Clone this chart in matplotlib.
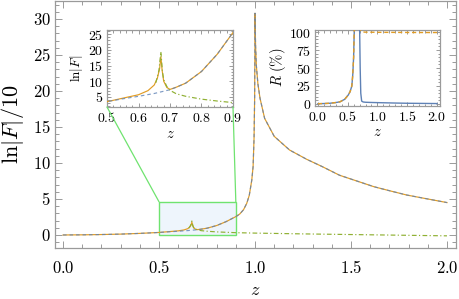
import numpy as np
import matplotlib
matplotlib.use('Agg')
import matplotlib.pyplot as plt
from matplotlib.patches import Rectangle, ConnectionPatch
from matplotlib.ticker import MultipleLocator, FuncFormatter

plt.rcParams['mathtext.fontset'] = 'cm'
plt.rcParams['font.family'] = ['DejaVu Serif']

# ---------------- data ----------------
# full ln|F| (orange, solid)
z_tot = [0.0, 0.1, 0.2, 0.3, 0.4, 0.5, 0.55, 0.6, 0.63, 0.65, 0.66, 0.667, 0.671,
         0.675, 0.68, 0.69, 0.70, 0.72, 0.75, 0.8, 0.85, 0.9, 0.92, 0.94, 0.957,
         0.97, 0.983, 0.99, 0.995, 0.998, 0.9995, 1.0, 1.001, 1.003, 1.007, 1.015,
         1.026, 1.05, 1.1, 1.18, 1.27, 1.35, 1.44, 1.53, 1.62, 1.7, 1.79, 1.9, 2.0]
lnF_tot = [0.0, 0.2, 0.6, 1.2, 2.2, 3.5, 4.6, 5.7, 7.0, 8.8, 11.0, 14.0, 17.8,
           13.5, 10.0, 8.0, 7.4, 8.1, 9.4, 13.1, 18.6, 25.5, 29.0, 35.0, 44.0,
           55.0, 76.0, 95.0, 135.0, 190.0, 260.0, 308.0, 290.0, 262.0, 235.0, 210.0,
           190.0, 162.0, 137.0, 118.0, 105.0, 95.0, 83.0, 75.0, 67.0, 61.5, 55.5, 50.0, 45.0]
# smooth part (blue, dashed)
z_smooth = [0.0, 0.1, 0.2, 0.3, 0.4, 0.5, 0.55, 0.6, 0.65, 0.7, 0.72, 0.75, 0.8, 0.85,
            0.9, 0.92, 0.94, 0.957, 0.97, 0.983, 0.99, 0.995, 0.998, 0.9995, 1.0,
            1.001, 1.003, 1.007, 1.015, 1.026, 1.05, 1.1, 1.18, 1.27, 1.35, 1.44,
            1.53, 1.62, 1.7, 1.79, 1.9, 2.0]
lnF_smooth = [0.0, 0.2, 0.6, 1.2, 2.2, 3.5, 4.4, 5.2, 6.1, 7.3, 8.1, 9.4, 13.1, 18.6,
              25.5, 29.0, 35.0, 44.0, 55.0, 76.0, 95.0, 135.0, 190.0, 260.0, 308.0,
              290.0, 262.0, 235.0, 210.0, 190.0, 162.0, 137.0, 118.0, 105.0, 95.0, 83.0,
              75.0, 67.0, 61.5, 55.5, 50.0, 45.0]
# resonant part (green, dash-dot)
z_res = [0.655, 0.665, 0.671, 0.676, 0.68, 0.69, 0.70, 0.72, 0.75, 0.8, 0.85, 0.9,
         1.0, 1.25, 1.5, 1.75, 2.0]
lnF_res = [9.5, 13.5, 19.4, 13.0, 10.5, 8.3, 7.1, 6.0, 5.2, 4.3, 3.7, 3.2,
           2.6, 1.5, 0.6, -0.3, -1.2]

# reflectance R (%)
z_R = [0.0, 0.1, 0.2, 0.3, 0.37, 0.45, 0.51, 0.54, 0.57, 0.585, 0.6, 0.61, 0.63,
       0.66, 0.69, 0.70, 0.71, 0.72, 0.735, 0.76, 0.8, 0.9, 1.0, 1.25, 1.5, 1.75, 2.0]
R_blue = [0.4, 0.6, 1.0, 2.0, 3.0, 6.5, 12.5, 17.0, 25.0, 40.0, 65.0, 100.0, 180.0,
          250.0, 180.0, 110.0, 50.0, 15.0, 4.0, 2.8, 2.4, 2.1, 1.9, 1.4, 1.0, 0.8, 0.6]
R_orange = [0.4, 0.6, 1.0, 2.0, 3.0, 6.5, 12.5, 17.0, 25.0, 40.0, 65.0, 100.0, 180.0,
            250.0, 180.0, 140.0, 105.0, 102.0, 101.0, 100.0, 99.8, 99.7, 99.6, 99.5,
            99.4, 99.3, 99.3]

C_BLUE = '#5E81B5'
C_ORANGE = '#E19C24'
C_GREEN = '#8FB032'
C_FRAME = '#9a9a9a'
C_BOX = '#6FE36F'
LW = 0.85


def style(a, fs, maj, mino):
    for s in a.spines.values():
        s.set_color(C_FRAME)
        s.set_linewidth(0.9)
    a.tick_params(which='both', direction='in', top=True, right=True,
                  color=C_FRAME, labelsize=fs, width=0.7, pad=3)
    a.tick_params(which='major', length=maj)
    a.tick_params(which='minor', length=mino)


fmt1 = FuncFormatter(lambda v, p: f'${v:.1f}$')
fmt0 = FuncFormatter(lambda v, p: f'${v:.0f}$')

fig = plt.figure(figsize=(4.6, 2.99), dpi=100)

# ---------------- main axes ----------------
ax = fig.add_axes([55/460, 51.5/299, 401/460, 246.5/299])
zt = np.array(z_tot)
zs = np.array(z_smooth)
zr = np.array(z_res)
ax.plot(zt, np.array(lnF_tot)/10, color=C_ORANGE, lw=LW, zorder=3)
ax.plot(zs, np.array(lnF_smooth)/10, color=C_BLUE, lw=LW, dashes=(3, 2.5), alpha=0.8, zorder=4)
ax.plot(zr, np.array(lnF_res)/10, color=C_GREEN, lw=LW, dashes=(4, 2, 1, 2), zorder=5)
ax.add_patch(Rectangle((0.5, 0.0), 0.4, 4.6, facecolor='#EEF5FC', edgecolor=C_BOX,
                       lw=1.0, zorder=1))
ax.set_xlim(-0.042, 2.047)
ax.set_ylim(-1.74, 32.5)
ax.xaxis.set_major_locator(MultipleLocator(0.5))
ax.xaxis.set_minor_locator(MultipleLocator(0.1))
ax.yaxis.set_major_locator(MultipleLocator(5))
ax.yaxis.set_minor_locator(MultipleLocator(1))
ax.xaxis.set_major_formatter(fmt1)
ax.yaxis.set_major_formatter(fmt0)
style(ax, 12, 5, 3)
ax.tick_params(axis='x', pad=9)
ax.set_xlabel('$z$', fontsize=13, labelpad=3)
ax.set_ylabel(r'$\ln|F|/10$', fontsize=16, labelpad=5)

# ---------------- inset 1 ----------------
ax1 = fig.add_axes([107/460, (299-107)/299, 126/460, 77/299])
ax1.plot(zt, lnF_tot, color=C_ORANGE, lw=LW, zorder=3)
ax1.plot(zs, lnF_smooth, color=C_BLUE, lw=LW, dashes=(3, 2.5), alpha=0.8, zorder=4)
ax1.plot(zr, lnF_res, color=C_GREEN, lw=LW, dashes=(4, 2, 1, 2), zorder=5)
ax1.set_xlim(0.5, 0.9)
ax1.set_ylim(1.8, 26.3)
ax1.xaxis.set_major_locator(MultipleLocator(0.1))
ax1.xaxis.set_minor_locator(MultipleLocator(0.02))
ax1.yaxis.set_major_locator(MultipleLocator(5))
ax1.yaxis.set_minor_locator(MultipleLocator(1))
ax1.xaxis.set_major_formatter(fmt1)
ax1.yaxis.set_major_formatter(fmt0)
style(ax1, 10, 3, 1.8)
ax1.set_xlabel('$z$', fontsize=10.5, labelpad=1)
ax1.set_ylabel(r'$\ln|F|$', fontsize=9.5, labelpad=2)

# ---------------- inset 2 ----------------
ax2 = fig.add_axes([315.5/460, (299-105.5)/299, 124.5/460, 75.5/299])
ax2.plot(z_R, R_blue, color=C_BLUE, lw=LW + 0.15, zorder=3)
ax2.plot(z_R, R_orange, color=C_ORANGE, lw=LW + 0.15, dashes=(3, 2), zorder=4)
ax2.set_xlim(-0.04, 2.05)
ax2.set_ylim(-2.1, 102.8)
ax2.xaxis.set_major_locator(MultipleLocator(0.5))
ax2.xaxis.set_minor_locator(MultipleLocator(0.1))
ax2.yaxis.set_major_locator(MultipleLocator(25))
ax2.yaxis.set_minor_locator(MultipleLocator(5))
ax2.xaxis.set_major_formatter(fmt1)
ax2.yaxis.set_major_formatter(fmt0)
style(ax2, 10, 3, 1.8)
ax2.set_xlabel('$z$', fontsize=10.5, labelpad=1)
ax2.set_ylabel(r'$R\ (\%)$', fontsize=10.5, labelpad=1)

# ---------------- zoom connectors ----------------
for xa, xb in [(0.0, 0.5), (1.0, 0.9)]:
    cp = ConnectionPatch(xyA=(xa, 0.0), coordsA=ax1.transAxes,
                         xyB=(xb, 4.6), coordsB=ax.transData,
                         color=C_BOX, lw=0.9, zorder=2)
    fig.add_artist(cp)

fig.savefig('out.png', dpi=100)
